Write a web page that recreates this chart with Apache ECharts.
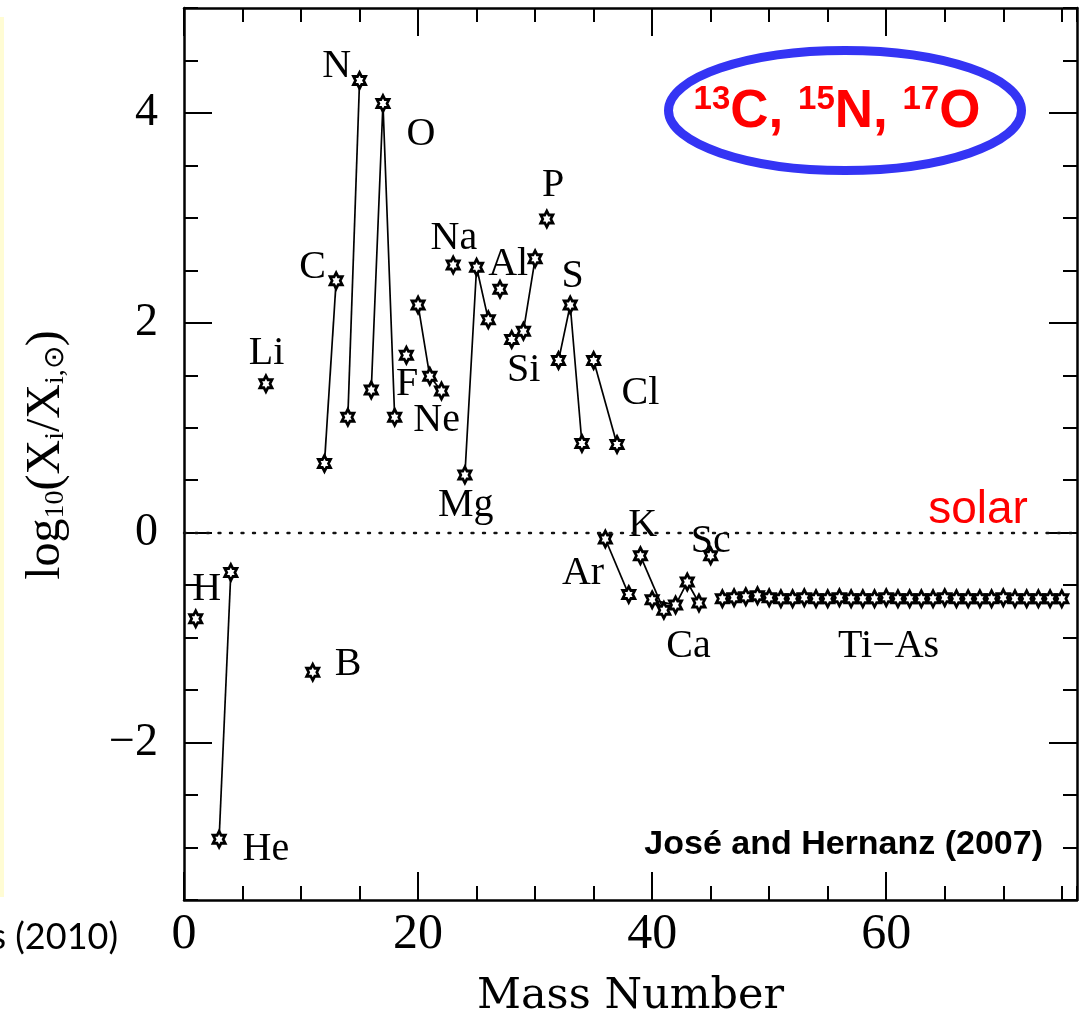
<!DOCTYPE html>
<html>
<head>
<meta charset="utf-8">
<script src="https://cdn.jsdelivr.net/npm/echarts@6/dist/echarts.min.js"></script>
<style>
  html, body { margin: 0; padding: 0; background: #fff; }
  #chart { width: 1084px; height: 1011px; }
</style>
</head>
<body>
<div id="chart"></div>
<script>
// Nova ejecta abundances relative to solar, [mass number, log10(X/Xsun)]
const hData  = [[1, -0.82]];
const heData = [[3, -2.92], [4, -0.38]];
const liData = [[7, 1.42]];
const bData  = [[11, -1.33]];
const cData  = [[12, 0.66], [13, 2.40]];
const nData  = [[14, 1.10], [15, 4.31]];
const oData  = [[16, 1.36], [17, 4.09], [18, 1.10]];
const fData  = [[19, 1.69]];
const neData = [[20, 2.17], [21, 1.49], [22, 1.35]];
const naData = [[23, 2.55]];
const mgData = [[24, 0.55], [25, 2.53], [26, 2.03]];
const alData = [[27, 2.32]];
const siData = [[28, 1.84], [29, 1.92], [30, 2.61]];
const pData  = [[31, 2.99]];
const sData  = [[32, 1.64], [33, 2.17], [34, 0.85]];
const clData = [[35, 1.64], [37, 0.84]];
const arData = [[36, -0.06], [38, -0.59]];
const kData  = [[39, -0.22], [41, -0.74]];
const caData = [[40, -0.64], [42, -0.69], [43, -0.47], [44, -0.67]];
const scData = [[45, -0.22]];
const tiAsMass = [46, 47, 48, 49, 50, 51, 52, 53, 54, 55, 56, 57, 58, 59, 60,
                  61, 62, 63, 64, 65, 66, 67, 68, 69, 70, 71, 72, 73, 74, 75];
const tiAsLog  = [-0.63, -0.62, -0.61, -0.60, -0.62, -0.63, -0.63, -0.62, -0.63, -0.63,
                  -0.62, -0.63, -0.63, -0.63, -0.62, -0.63, -0.63, -0.63, -0.63, -0.62,
                  -0.63, -0.63, -0.63, -0.63, -0.62, -0.63, -0.63, -0.63, -0.63, -0.63];

// Element names, placed in data coordinates next to their points
const elementLabels = [
  ['N', 13.04, 4.44], ['O', 20.24, 3.79], ['C', 10.98, 2.53], ['Li', 7.06, 1.71],
  ['F', 19.07, 1.41], ['Ne', 21.58, 1.07], ['Na', 23.06, 2.80], ['Al', 27.7, 2.56],
  ['P', 31.54, 3.31], ['S', 33.2, 2.44], ['Si', 29.03, 1.55], ['Cl', 39.0, 1.33],
  ['Mg', 24.08, 0.26], ['K', 39.2, 0.07], ['H', 1.94, -0.54], ['B', 14.03, -1.26],
  ['He', 7.0, -3.02], ['Ar', 34.09, -0.39], ['Sc', 45.0, -0.08], ['Ca', 43.1, -1.08],
  ['Ti\u2212As', 60.2, -1.08]
];

const xMajor = [0, 20, 40, 60];
const yMajor = [-2, 0, 2, 4];

const SERIF = 'Liberation Serif';
const starPath = 'path://M0,-10L2.887,-5L8.66,-5L5.77,0L8.66,5L2.887,5L0,10L-2.887,5L-8.66,5L-5.77,0L-8.66,-5L-2.887,-5Z';

const tiAsData = tiAsMass.map((m, i) => [m, tiAsLog[i]]);
const groups = [hData, heData, liData, bData, cData, nData, oData, fData, neData, naData,
  mgData, alData, siData, pData, sData, clData, arData, kData, caData, scData, tiAsData];

const fmtMinus = v => (v < 0 ? '\u2212' + Math.abs(v) : String(v));

function xAxisDef(pos, major, withLabel) {
  return {
    type: 'value', position: pos, min: 0, max: 76.3,
    interval: 5,
    axisLine: { show: !major, onZero: false, lineStyle: { color: '#000', width: 2.5 } },
    axisTick: major
      ? { show: true, inside: true, length: 28, customValues: xMajor, lineStyle: { color: '#000', width: 2 } }
      : { show: true, inside: true, length: 14, lineStyle: { color: '#000', width: 2 } },
    axisLabel: withLabel
      ? { show: true, customValues: xMajor, color: '#000', fontFamily: SERIF, fontSize: 50, margin: 10 }
      : { show: false },
    splitLine: { show: false }
  };
}
function yAxisDef(pos, major, withLabel) {
  return {
    type: 'value', position: pos, min: -3.5, max: 5,
    interval: 0.5,
    axisLine: { show: !major, onZero: false, lineStyle: { color: '#000', width: 2.5 } },
    axisTick: major
      ? { show: true, inside: true, length: 28, customValues: yMajor, lineStyle: { color: '#000', width: 2 } }
      : { show: true, inside: true, length: 14, lineStyle: { color: '#000', width: 2 } },
    axisLabel: withLabel
      ? { show: true, customValues: yMajor, formatter: fmtMinus, color: '#000', fontFamily: SERIF, fontSize: 46, margin: 26 }
      : { show: false },
    splitLine: { show: false }
  };
}

const xAxes = [
  Object.assign(xAxisDef('bottom', false, true), {
    name: 'Mass Number', nameLocation: 'middle', nameGap: 75,
    nameTextStyle: { color: '#000', fontFamily: 'DejaVu Serif', fontSize: 43, lineHeight: 44 }
  }),
  xAxisDef('bottom', true, false),
  xAxisDef('top', false, false),
  xAxisDef('top', true, false)
];
const yAxes = [
  yAxisDef('left', false, true),
  yAxisDef('left', true, false),
  yAxisDef('right', false, false),
  yAxisDef('right', true, false)
];

const series = groups.map((d, i) => ({
  type: 'line',
  data: d,
  xAxisIndex: 0, yAxisIndex: 0,
  symbol: starPath, symbolSize: [14, 16], symbolKeepAspect: true,
  showSymbol: true,
  lineStyle: { color: '#000', width: 1.7 },
  itemStyle: { color: '#fff', borderColor: '#000', borderWidth: 2.8, opacity: 1 },
  animation: false,
  silent: true,
  z: 3,
  markLine: i === 0 ? {
    silent: true, symbol: 'none', animation: false,
    label: { show: false },
    lineStyle: { color: '#111', width: 2.4, type: [2, 9.5], cap: 'round', opacity: 1 },
    data: [{ yAxis: 0 }]
  } : undefined
}));

series.push({
  type: 'scatter',
  data: elementLabels.map(e => ({ value: [e[1], e[2]], name: e[0] })),
  symbolSize: 0,
  silent: true,
  animation: false,
  itemStyle: { opacity: 1 },
  label: {
    show: true, position: 'inside', formatter: '{b}',
    color: '#000', opacity: 1, fontFamily: SERIF, fontSize: 40
  },
  z: 4
});

const option = {
  backgroundColor: '#fff',
  animation: false,
  grid: { left: 184, right: 7, top: 8, bottom: 111, outerBoundsMode: 'none' },
  xAxis: xAxes,
  yAxis: yAxes,
  series: series,
  graphic: [
    { type: 'rect', shape: { x: 0, y: 17, width: 4, height: 880 }, style: { fill: '#fffcd4' }, silent: true },
    {
      type: 'text', x: 46, y: 455, rotation: Math.PI / 2, silent: true,
      style: {
        text: 'log{sub|10}(X{sub|i}/X{sub|i,\u2299})',
        align: 'center', verticalAlign: 'middle',
        fontFamily: SERIF, fontSize: 48, fill: '#000',
        rich: {
          sub: { fontFamily: SERIF, fontSize: 28, fill: '#000', verticalAlign: 'bottom', lineHeight: 40 }
        }
      }
    },
    {
      type: 'ellipse', silent: true,
      shape: { cx: 845, cy: 110.5, rx: 176.5, ry: 60 },
      style: { fill: 'none', stroke: '#3434f4', lineWidth: 9 }
    },
    {
      type: 'text', x: 837, y: 112, silent: true,
      style: {
        text: '{s|13}{b|C, }{s|15}{b|N, }{s|17}{b|O}',
        align: 'center', verticalAlign: 'middle',
        rich: {
          b: { fontFamily: 'Liberation Sans', fontWeight: 'bold', fontSize: 53, fill: '#ff0000', lineHeight: 58 },
          s: { fontFamily: 'Liberation Sans', fontWeight: 'bold', fontSize: 33, fill: '#ff0000', verticalAlign: 'top', lineHeight: 34 }
        }
      }
    },
    {
      type: 'text', x: 978, y: 510, silent: true,
      style: { text: 'solar', align: 'center', verticalAlign: 'middle', fontFamily: 'Liberation Sans', fontSize: 46, fill: '#ff0000' }
    },
    {
      type: 'text', x: 1043, y: 845, silent: true,
      style: { text: 'Jos\u00e9 and Hernanz (2007)', align: 'right', verticalAlign: 'middle', fontFamily: 'Liberation Sans', fontWeight: 'bold', fontSize: 34, fill: '#000' }
    },
    {
      type: 'text', x: 118, y: 937, silent: true,
      style: { text: 's (2010)', align: 'right', verticalAlign: 'middle', fontFamily: 'Lato', fontSize: 36, fill: '#000' }
    }
  ]
};

const chart = echarts.init(document.getElementById('chart'), null, { renderer: 'canvas' });
chart.setOption(option);
</script>
</body>
</html>
